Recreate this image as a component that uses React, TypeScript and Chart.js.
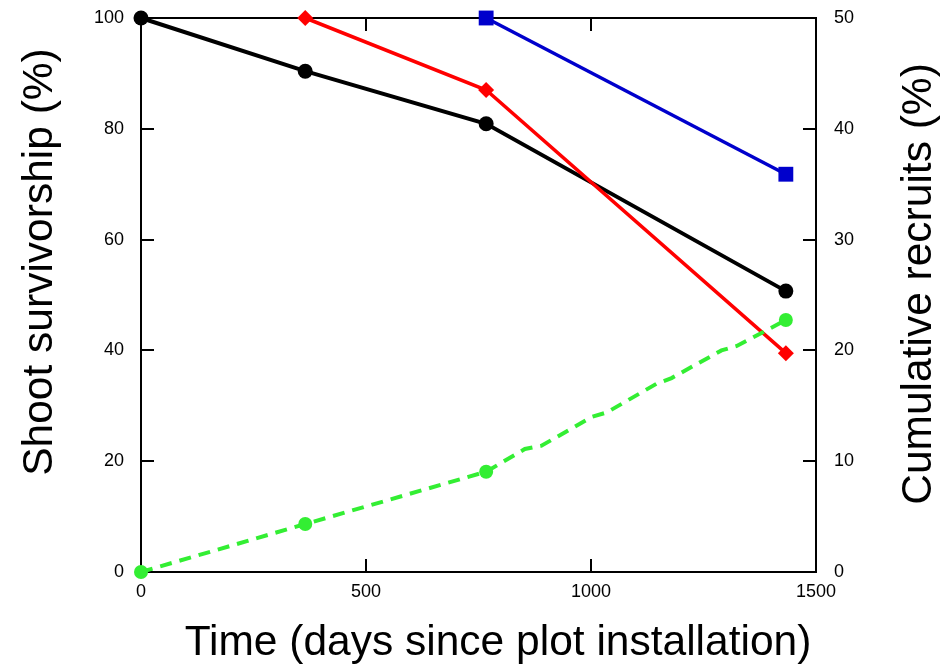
import React, { useEffect, useRef } from "react";
import { Chart, registerables } from "chart.js";

Chart.register(...registerables);

// Census days (x) for each series
const censusDays = [0, 365, 767, 1433];
const allShootsDays = [0, 365, 767, 1433];
const allShootsSurv = [100, 90.4, 80.9, 50.7];
const cohort2Days = [365, 767, 1433];
const cohort2Surv = [100, 87.0, 39.5];
const cohort3Days = [767, 1433];
const cohort3Surv = [100, 71.8];
const recruitDays = [0, 365, 767, 853, 890, 1002, 1035, 1146, 1179, 1290, 1324, 1433];
const recruitPct = [0, 4.33, 9.05, 11.1, 11.4, 14.0, 14.4, 17.0, 17.5, 20.0, 20.4, 22.74];

const xTicks = [0, 500, 1000, 1500];
const yTicks = [0, 20, 40, 60, 80, 100];
const y2Ticks = [0, 10, 20, 30, 40, 50];

const xTitle = "Time (days since plot installation)";
const yTitle = "Shoot survivorship (%)";
const y2Title = "Cumulative recruits (%)";

const FONT = "'Liberation Sans', Arial, Helvetica, sans-serif";

const pts = (xs: number[], ys: number[]) => xs.map((x, i) => ({ x, y: ys[i] }));

const framePlugin = {
  id: "framePlugin",
  beforeDatasetsDraw(chart: any) {
    const { ctx, chartArea: a, scales } = chart;
    ctx.save();
    ctx.strokeStyle = "#000";
    ctx.lineWidth = 2;
    ctx.strokeRect(a.left, a.top, a.right - a.left, a.bottom - a.top);
    ctx.beginPath();
    const tl = 13;
    scales.x.ticks.forEach((t: any) => {
      if (t.value <= 0 || t.value >= 1500) return;
      const px = Math.round(scales.x.getPixelForValue(t.value));
      ctx.moveTo(px, a.bottom);
      ctx.lineTo(px, a.bottom - tl);
      ctx.moveTo(px, a.top);
      ctx.lineTo(px, a.top + tl);
    });
    scales.y.ticks.forEach((t: any) => {
      if (t.value <= 0 || t.value >= 100) return;
      const py = Math.round(scales.y.getPixelForValue(t.value));
      ctx.moveTo(a.left, py);
      ctx.lineTo(a.left + tl, py);
    });
    scales.y2.ticks.forEach((t: any) => {
      if (t.value <= 0 || t.value >= 50) return;
      const py = Math.round(scales.y2.getPixelForValue(t.value));
      ctx.moveTo(a.right, py);
      ctx.lineTo(a.right - tl, py);
    });
    ctx.stroke();
    ctx.restore();
  },
  afterDraw(chart: any) {
    const { ctx } = chart;
    ctx.save();
    ctx.fillStyle = "#000";
    ctx.font = `42.5px ${FONT}`;
    ctx.textBaseline = "alphabetic";
    ctx.textAlign = "center";
    ctx.fillText(xTitle, 498, 655);
    ctx.save();
    ctx.translate(52, 262);
    ctx.rotate(-Math.PI / 2);
    ctx.fillText(yTitle, 0, 0);
    ctx.restore();
    ctx.save();
    ctx.translate(931, 284);
    ctx.rotate(-Math.PI / 2);
    ctx.fillText(y2Title, 0, 0);
    ctx.restore();
    ctx.restore();
  },
};

const noPad = (s: any) => {
  s.paddingTop = 0;
  s.paddingBottom = 0;
  s.paddingLeft = 0;
  s.paddingRight = 0;
};

export default function App() {
  const ref = useRef<HTMLCanvasElement | null>(null);
  useEffect(() => {
    if (!ref.current) return;
    const tickFont = { family: FONT, size: 18 };
    const plain = (v: any) => String(v);
    const chart = new Chart(ref.current, {
      type: "line",
      data: {
        datasets: [
          {
            label: "Cumulative recruits",
            data: pts(recruitDays, recruitPct),
            yAxisID: "y2",
            borderColor: "#33ee33",
            backgroundColor: "#33ee33",
            borderWidth: 4,
            borderDash: [12, 8],
            pointRadius: recruitDays.map((d) => (censusDays.includes(d) ? 7 : 0)),
            pointStyle: "circle",
            pointBorderWidth: 0,
            tension: 0,
            clip: false as any,
          },
          {
            label: "Cohort 3",
            data: pts(cohort3Days, cohort3Surv),
            yAxisID: "y",
            borderColor: "#0000cc",
            backgroundColor: "#0000cc",
            borderWidth: 3.5,
            pointRadius: 10.5,
            pointStyle: "rect",
            pointBorderWidth: 0,
            tension: 0,
            clip: false as any,
          },
          {
            label: "Cohort 2",
            data: pts(cohort2Days, cohort2Surv),
            yAxisID: "y",
            borderColor: "#ff0000",
            backgroundColor: "#ff0000",
            borderWidth: 3.5,
            pointRadius: 8,
            pointStyle: "rectRot",
            pointBorderWidth: 0,
            tension: 0,
            clip: false as any,
          },
          {
            label: "All shoots",
            data: pts(allShootsDays, allShootsSurv),
            yAxisID: "y",
            borderColor: "#000000",
            backgroundColor: "#000000",
            borderWidth: 4,
            pointRadius: 7.5,
            pointStyle: "circle",
            pointBorderWidth: 0,
            tension: 0,
            clip: false as any,
          },
        ],
      },
      options: {
        animation: false,
        responsive: true,
        maintainAspectRatio: false,
        layout: { padding: { top: 18, left: 0, right: 0, bottom: 0 } },
        plugins: { legend: { display: false }, tooltip: { enabled: false } },
        scales: {
          x: {
            type: "linear",
            min: 0,
            max: 1500,
            afterBuildTicks: (s: any) => { s.ticks = xTicks.map((v) => ({ value: v })); },
            grid: { display: false, drawTicks: false },
            border: { display: false },
            ticks: { font: tickFont, color: "#000", padding: 9, maxRotation: 0, callback: plain },
            afterFit: (s: any) => { s.height = 95; noPad(s); },
          },
          y: {
            type: "linear",
            position: "left",
            min: 0,
            max: 100,
            afterBuildTicks: (s: any) => { s.ticks = yTicks.map((v) => ({ value: v })); },
            grid: { display: false, drawTicks: false },
            border: { display: false },
            ticks: { font: tickFont, color: "#000", padding: 17, callback: plain },
            afterFit: (s: any) => { s.width = 141; noPad(s); },
          },
          y2: {
            type: "linear",
            position: "right",
            min: 0,
            max: 50,
            afterBuildTicks: (s: any) => { s.ticks = y2Ticks.map((v) => ({ value: v })); },
            grid: { display: false, drawTicks: false },
            border: { display: false },
            ticks: { font: tickFont, color: "#000", padding: 18, callback: plain },
            afterFit: (s: any) => { s.width = 129; noPad(s); },
          },
        },
      },
      plugins: [framePlugin],
    } as any);
    return () => chart.destroy();
  }, []);
  return (
    <div style={{ position: "fixed", left: 0, top: 0, width: 945, height: 667, background: "#fff" }}>
      <canvas ref={ref} />
    </div>
  );
}
